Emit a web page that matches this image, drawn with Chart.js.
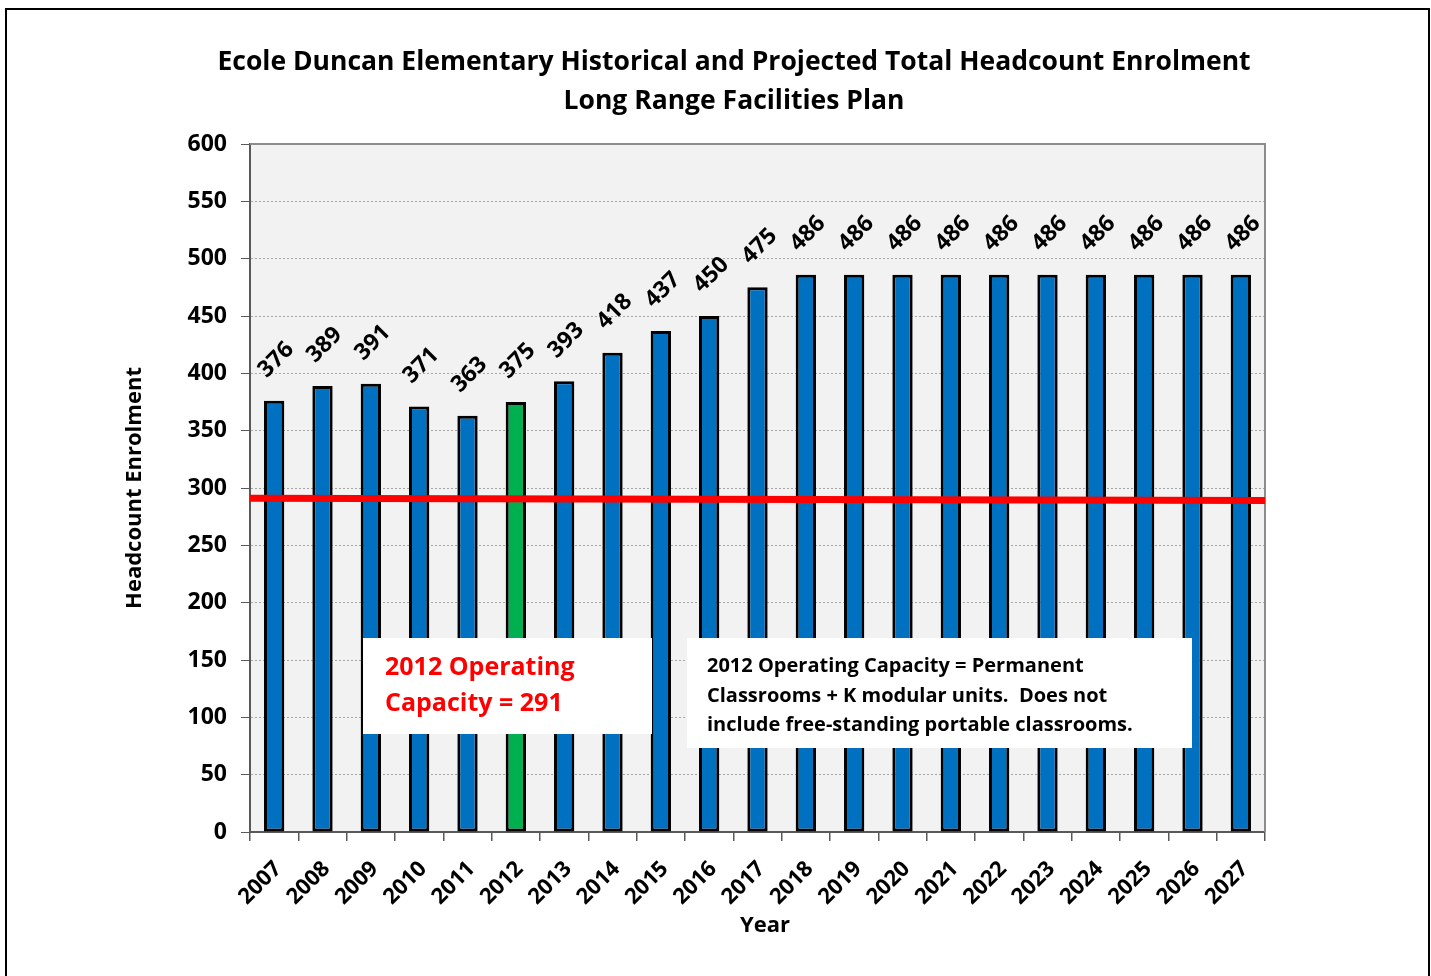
<!DOCTYPE html>
<html>
<head>
<meta charset="utf-8">
<title>Ecole Duncan Elementary Enrolment</title>
<script src="https://cdn.jsdelivr.net/npm/chart.js@4"></script>
<style>
  html, body { margin: 0; padding: 0; background: #fff; }
  canvas { display: block; }
</style>
</head>
<body>
<canvas id="chart" width="1431" height="976"></canvas>
<script>
// data
const years = ['2007', '2008', '2009', '2010', '2011', '2012', '2013', '2014', '2015', '2016', '2017',
  '2018', '2019', '2020', '2021', '2022', '2023', '2024', '2025', '2026', '2027'];
const enrolment = [376, 389, 391, 371, 363, 375, 393, 418, 437, 450, 475,
  486, 486, 486, 486, 486, 486, 486, 486, 486, 486];
const highlightYear = '2012';
const capacityLine = [291, 289]; // start / end of the red capacity line
const yTicks = [0, 50, 100, 150, 200, 250, 300, 350, 400, 450, 500, 550, 600];

const FONT = '"Open Sans", Lato, sans-serif';
const BLUE = '#0070C0';
const GREEN = '#00B050';

const barColors = years.map(y => y === highlightYear ? GREEN : BLUE);

// background, frame, titles
const backdrop = {
  id: 'backdrop',
  beforeDraw(chart) {
    const ctx = chart.ctx;
    const a = chart.chartArea;
    ctx.save();
    ctx.fillStyle = '#fff';
    ctx.fillRect(0, 0, chart.width, chart.height);
    ctx.fillStyle = '#f2f2f2';
    ctx.fillRect(a.left, a.top, a.right - a.left, a.bottom - a.top);

    // outer frame
    ctx.strokeStyle = '#000';
    ctx.lineWidth = 2;
    ctx.strokeRect(6, 9, 1423, 1000);

    // title
    ctx.fillStyle = '#000';
    ctx.font = 'bold 26.5px ' + FONT;
    ctx.textAlign = 'center';
    ctx.textBaseline = 'middle';
    ctx.fillText('Ecole Duncan Elementary Historical and Projected Total Headcount Enrolment', 734, 62);
    ctx.fillText('Long Range Facilities Plan', 734, 101);

    // x axis title
    ctx.font = 'bold 22px ' + FONT;
    ctx.fillText('Year', 765, 926);
    ctx.restore();
  },
  beforeDatasetsDraw(chart) {
    const ctx = chart.ctx;
    const a = chart.chartArea;
    ctx.save();
    ctx.strokeStyle = '#8c8c8c';
    ctx.lineWidth = 2;
    ctx.beginPath();
    ctx.moveTo(a.left, a.top);
    ctx.lineTo(a.right, a.top);
    ctx.lineTo(a.right, a.bottom);
    ctx.stroke();
    ctx.restore();
  }
};

// capacity line, notes, value labels
const overlay = {
  id: 'overlay',
  afterDatasetsDraw(chart) {
    const ctx = chart.ctx;
    const a = chart.chartArea;
    const yScale = chart.scales.y;
    ctx.save();

    ctx.strokeStyle = '#ff0000';
    ctx.lineWidth = 7;
    ctx.beginPath();
    ctx.moveTo(a.left, yScale.getPixelForValue(capacityLine[0]));
    ctx.lineTo(a.right, yScale.getPixelForValue(capacityLine[1]));
    ctx.stroke();

    // note boxes
    ctx.fillStyle = '#fff';
    ctx.fillRect(363, 638, 289, 96);
    ctx.fillRect(687, 638, 505, 110);

    ctx.textAlign = 'left';
    ctx.textBaseline = 'alphabetic';
    ctx.fillStyle = '#ff0000';
    ctx.font = 'bold 25px ' + FONT;
    ctx.fillText('2012 Operating', 385, 675);
    ctx.fillText('Capacity = ' + capacityLine[0], 385, 711);

    ctx.fillStyle = '#000';
    ctx.font = 'bold 20px ' + FONT;
    ctx.fillText('2012 Operating Capacity = Permanent', 707, 672);
    ctx.fillText('Classrooms + K modular units.  Does not', 707, 702);
    ctx.fillText('include free-standing portable classrooms.', 707, 731);

    // value labels
    const meta = chart.getDatasetMeta(0);
    ctx.font = 'bold 23px ' + FONT;
    ctx.textAlign = 'center';
    ctx.textBaseline = 'middle';
    meta.data.forEach((bar, i) => {
      ctx.save();
      ctx.translate(bar.x + 2, bar.y - 41);
      ctx.rotate(-Math.PI / 4);
      ctx.fillText(String(enrolment[i]), 0, 0);
      ctx.restore();
    });
    ctx.restore();
  }
};

const chart = new Chart(document.getElementById('chart'), {
  type: 'bar',
  data: {
    labels: years,
    datasets: [{
      label: 'Headcount Enrolment',
      data: enrolment,
      backgroundColor: barColors,
      borderColor: '#000',
      borderWidth: 3,
      borderSkipped: false,
      barPercentage: 0.42,
      categoryPercentage: 1
    }]
  },
  options: {
    responsive: false,
    devicePixelRatio: 1,
    animation: false,
    layout: { padding: { top: 144, left: 0, right: 166, bottom: 0 } },
    plugins: {
      legend: { display: false },
      tooltip: { enabled: false },
      title: { display: false }
    },
    scales: {
      x: {
        offset: true,
        grid: {
          offset: true,
          drawOnChartArea: false,
          drawTicks: true,
          tickLength: 9,
          color: '#595959',
          lineWidth: 1.5
        },
        border: { color: '#595959', width: 2 },
        ticks: {
          color: '#000',
          font: { family: FONT, size: 22, weight: 'bold' },
          minRotation: 45,
          maxRotation: 45,
          autoSkip: false,
          padding: 15,
          labelOffset: 4
        },
        afterFit(scale) { scale.height = 144; }
      },
      y: {
        min: 0,
        max: 600,
        afterBuildTicks(scale) { scale.ticks = yTicks.map(v => ({ value: v })); },
        grid: {
          color: '#a6a6a6',
          lineWidth: 1,
          tickLength: 9,
          tickColor: '#595959'
        },
        border: { color: '#595959', width: 2, dash: [2, 2] },
        ticks: {
          color: '#000',
          font: { family: FONT, size: 23, weight: 'bold' },
          padding: 14
        },
        title: {
          display: true,
          text: 'Headcount Enrolment',
          color: '#000',
          font: { family: FONT, size: 22, weight: 'bold' },
          padding: { top: 122, bottom: 0 }
        },
        afterFit(scale) { scale.width = 250; }
      }
    }
  },
  plugins: [backdrop, overlay]
});
</script>
</body>
</html>
